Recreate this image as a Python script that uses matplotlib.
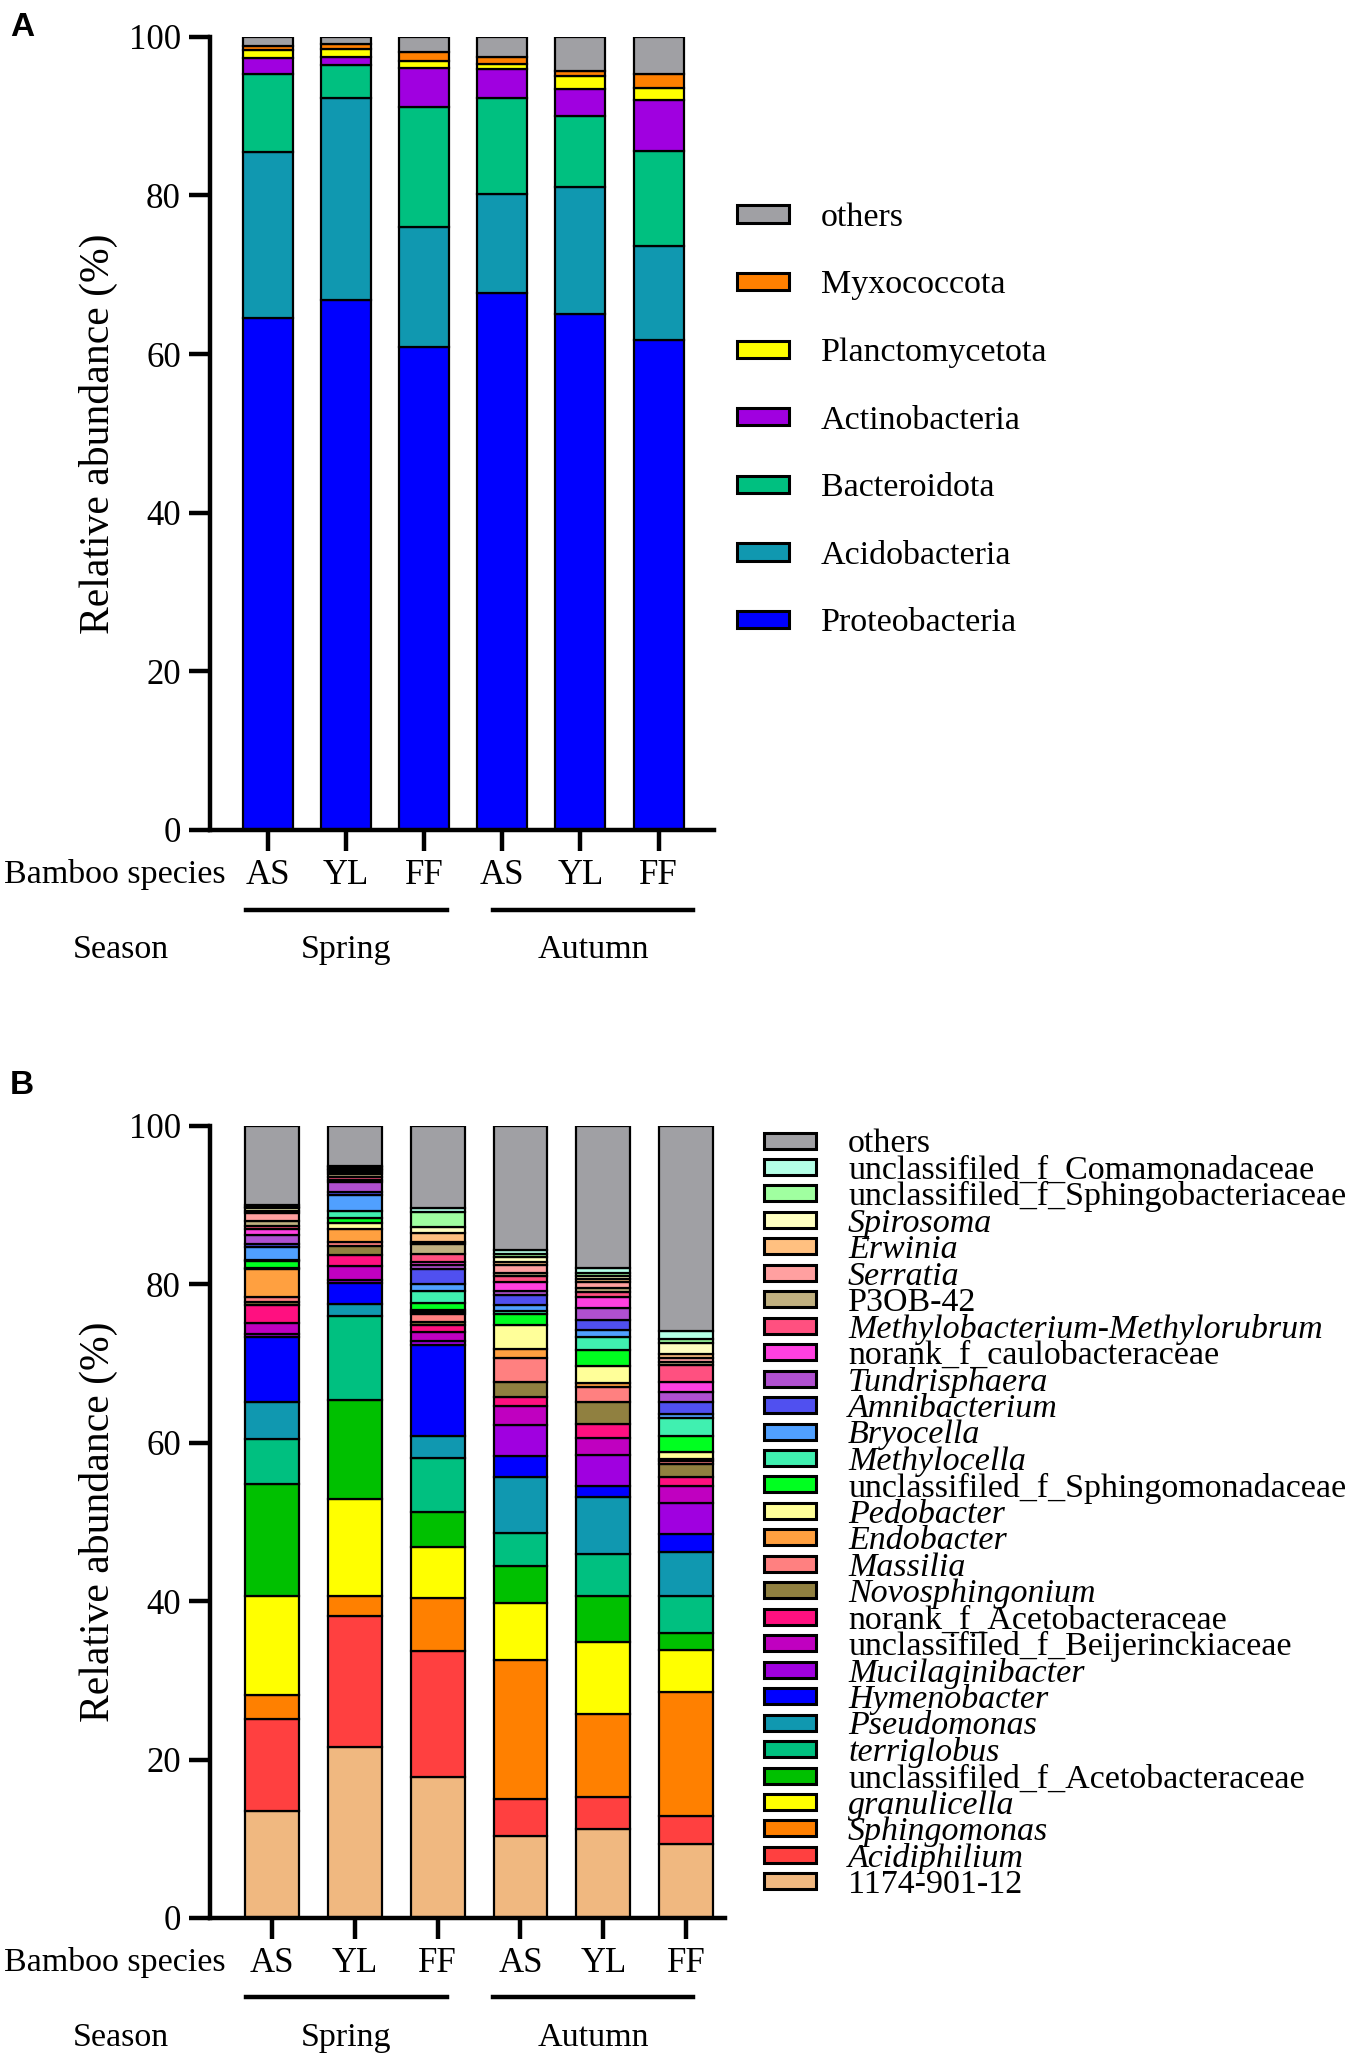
import matplotlib
matplotlib.use("Agg")
import matplotlib.pyplot as plt
from matplotlib.patches import Rectangle
from matplotlib.lines import Line2D
import numpy as np

SERIF = ["Liberation Serif", "DejaVu Serif"]
plt.rcParams["font.family"] = SERIF

W, H = 1355, 2060

groups = ["AS", "YL", "FF", "AS", "YL", "FF"]

# ---- panel A: phylum level (bottom -> top) ----
phyla = ["Proteobacteria", "Acidobacteria", "Bacteroidota", "Actinobacteria",
         "Planctomycetota", "Myxococcota", "others"]
phyla_colors = ["#0000FF", "#1098B0", "#00C080", "#A000E0",
                "#FFFF00", "#FF8000", "#A0A0A4"]

a_spring_as = [64.5, 21.0, 9.8, 2.0, 1.0, 0.5, 1.2]
a_spring_yl = [66.8, 25.5, 4.1, 1.1, 0.9, 0.7, 0.9]
a_spring_ff = [60.9, 15.1, 15.1, 5.0, 0.8, 1.2, 1.9]
a_autumn_as = [67.7, 12.5, 12.1, 3.6, 0.7, 0.8, 2.6]
a_autumn_yl = [65.1, 16.0, 8.9, 3.4, 1.6, 0.7, 4.3]
a_autumn_ff = [61.8, 11.8, 12.0, 6.4, 1.6, 1.7, 4.7]

# ---- panel B: genus level (bottom -> top) ----
genera = ["1174-901-12", "Acidiphilium", "Sphingomonas", "granulicella",
          "unclassifiled_f_Acetobacteraceae", "terriglobus", "Pseudomonas",
          "Hymenobacter", "Mucilaginibacter", "unclassifiled_f_Beijerinckiaceae",
          "norank_f_Acetobacteraceae", "Novosphingonium", "Massilia",
          "Endobacter", "Pedobacter", "unclassifiled_f_Sphingomonadaceae",
          "Methylocella", "Bryocella", "Amnibacterium", "Tundrisphaera",
          "norank_f_caulobacteraceae", "Methylobacterium-Methylorubrum",
          "P3OB-42", "Serratia", "Erwinia", "Spirosoma",
          "unclassifiled_f_Sphingobacteriaceae",
          "unclassifiled_f_Comamonadaceae", "others"]
genera_colors = ["#F0B880", "#FF4040", "#FF8000", "#FFFF00", "#00C000",
                 "#00C080", "#1098B0", "#0000FF", "#A000E0", "#C000C0",
                 "#FF1080", "#908040", "#FF8080", "#FFA040", "#FFFF99",
                 "#00FF20", "#40F0B0", "#50A0FF", "#5050F0", "#B050D0",
                 "#FF40E0", "#FF5080", "#C0B080", "#FFA0A0", "#FFC080",
                 "#FFFFC0", "#A0FFA0", "#B4FFE6", "#A0A0A4"]
genera_italic = ["Acidiphilium", "Sphingomonas", "granulicella", "terriglobus",
                 "Pseudomonas", "Hymenobacter", "Mucilaginibacter",
                 "Novosphingonium", "Massilia", "Endobacter", "Pedobacter",
                 "Methylocella", "Bryocella", "Amnibacterium", "Tundrisphaera",
                 "Methylobacterium-Methylorubrum", "Serratia", "Erwinia",
                 "Spirosoma"]

b_spring_as = [13.5, 11.6, 3.1, 12.5, 14.1, 5.7, 4.6, 8.3, 0.4, 1.3, 2.3, 0.4,
               0.6, 3.5, 0.2, 0.8, 0.2, 1.6, 0.4, 1.1, 0.8, 0.4, 0.6, 1.0,
               0.3, 0.3, 0.2, 0.2, 10.0]
b_spring_yl = [21.6, 16.5, 2.6, 12.2, 12.5, 10.6, 1.5, 2.7, 0.4, 1.7, 1.4, 1.1,
               0.5, 1.7, 0.8, 0.6, 0.9, 2.0, 0.4, 1.2, 0.3, 0.3, 0.5, 0.2,
               0.2, 0.2, 0.2, 0.2, 5.0]
b_spring_ff = [17.8, 15.9, 6.7, 6.4, 4.4, 6.9, 2.8, 11.5, 0.4, 1.2, 0.9, 0.4,
               1.0, 0.2, 0.3, 0.9, 1.5, 0.9, 1.9, 0.5, 0.3, 1.1, 1.2, 0.3,
               1.1, 0.7, 1.9, 0.5, 10.4]
b_autumn_as = [10.4, 4.6, 17.6, 7.2, 4.7, 4.1, 7.1, 2.6, 4.0, 2.4, 1.1, 1.9,
               3.0, 1.1, 3.1, 1.4, 0.4, 0.7, 1.3, 0.5, 1.1, 0.8, 0.4, 0.9,
               0.4, 0.7, 0.3, 0.6, 15.6]
b_autumn_yl = [11.2, 4.1, 10.5, 9.1, 5.8, 5.2, 7.3, 1.4, 3.8, 2.2, 1.8, 2.8,
               1.8, 0.6, 2.1, 2.0, 1.6, 0.9, 1.3, 1.5, 1.4, 0.6, 0.6, 0.7,
               0.4, 0.4, 0.4, 0.6, 17.9]
b_autumn_ff = [9.4, 3.5, 15.6, 5.4, 2.1, 4.7, 5.5, 2.3, 3.9, 2.2, 1.1, 1.6,
               0.4, 0.2, 0.9, 2.0, 2.3, 0.5, 1.6, 1.2, 1.3, 2.1, 0.4, 0.5,
               0.5, 1.4, 0.5, 1.0, 25.9]


def fx(x):
    return x / W


def fy(y):
    return 1 - y / H


def stacked(ax, samples, colors, width):
    data = np.array(samples)
    x = np.arange(data.shape[0])
    bottom = np.zeros(data.shape[0])
    for i in range(data.shape[1]):
        ax.bar(x, data[:, i], width, bottom=bottom, color=colors[i],
               edgecolor="black", linewidth=1.6, zorder=2)
        bottom += data[:, i]
    ax.set_ylim(0, 100)
    ax.set_yticks([0, 20, 40, 60, 80, 100])
    ax.set_xticks(x)
    ax.set_xticklabels(groups)
    for s in ["top", "right"]:
        ax.spines[s].set_visible(False)
    for s in ["left", "bottom"]:
        ax.spines[s].set_linewidth(3.2)
    ax.tick_params(axis="both", length=15, width=3.2, labelsize=25, pad=6)
    for lab in ax.get_xticklabels() + ax.get_yticklabels():
        lab.set_family(SERIF)
    ax.set_ylabel("Relative abundance (%)", fontsize=30, family=SERIF)


def under_labels(ytick, yline, yseason, spring_x, autumn_x):
    fig.text(fx(226), fy(ytick), "Bamboo species", fontsize=24.5,
             ha="right", va="center", family=SERIF)
    for (x0, x1), name in [(spring_x, "Spring"), (autumn_x, "Autumn")]:
        fig.add_artist(Line2D([fx(x0), fx(x1)], [fy(yline), fy(yline)],
                              color="black", linewidth=3.2))
        fig.text(fx((x0 + x1) / 2), fy(yseason), name, fontsize=24.5,
                 ha="center", va="center", family=SERIF)
    fig.text(fx(121), fy(yseason), "Season", fontsize=24.5,
             ha="center", va="center", family=SERIF)


def legend(names, colors, x_patch, y_top, step, pw, ph, x_text, size,
           italic=()):
    for k, (name, col) in enumerate(zip(names[::-1], colors[::-1])):
        yc = y_top + k * step
        fig.add_artist(Rectangle((fx(x_patch), fy(yc + ph / 2)),
                                 pw / W, ph / H, facecolor=col,
                                 edgecolor="black", linewidth=2.2))
        fig.text(fx(x_text), fy(yc), name, fontsize=size, ha="left",
                 va="center_baseline", family=SERIF,
                 style="italic" if name in italic else "normal")


fig = plt.figure(figsize=(W / 100, H / 100), dpi=100)

# panel A
axA = fig.add_axes([fx(210), fy(830), (714 - 210) / W, (830 - 36.8) / H])
stacked(axA, [a_spring_as, a_spring_yl, a_spring_ff,
              a_autumn_as, a_autumn_yl, a_autumn_ff], phyla_colors, 0.64)
axA.set_xlim(-0.74, 5.71)
axA.yaxis.set_label_coords(-0.183, 0.5)
under_labels(875, 910, 950, (246, 447), (493, 693))
legend(phyla, phyla_colors, 737, 214, 67.6, 52, 17, 821, 24.5)
fig.text(fx(10), fy(27), "A", fontsize=24, fontweight="bold",
         family="Liberation Sans", ha="left", va="center")

# panel B
axB = fig.add_axes([fx(210), fy(1918), (725 - 210) / W, (1918 - 1126) / H])
stacked(axB, [b_spring_as, b_spring_yl, b_spring_ff,
              b_autumn_as, b_autumn_yl, b_autumn_ff], genera_colors, 0.65)
axB.set_xlim(-0.75, 5.47)
axB.yaxis.set_label_coords(-0.179, 0.5)
under_labels(1963, 1997, 2038, (246, 447), (493, 693))
legend(genera, genera_colors, 764, 1140.5, 26.46, 52, 16, 848, 24.5,
       italic=genera_italic)
fig.text(fx(10), fy(1086), "B", fontsize=24, fontweight="bold",
         family="Liberation Sans", ha="left", va="center")

fig.savefig("out.png", dpi=100)
